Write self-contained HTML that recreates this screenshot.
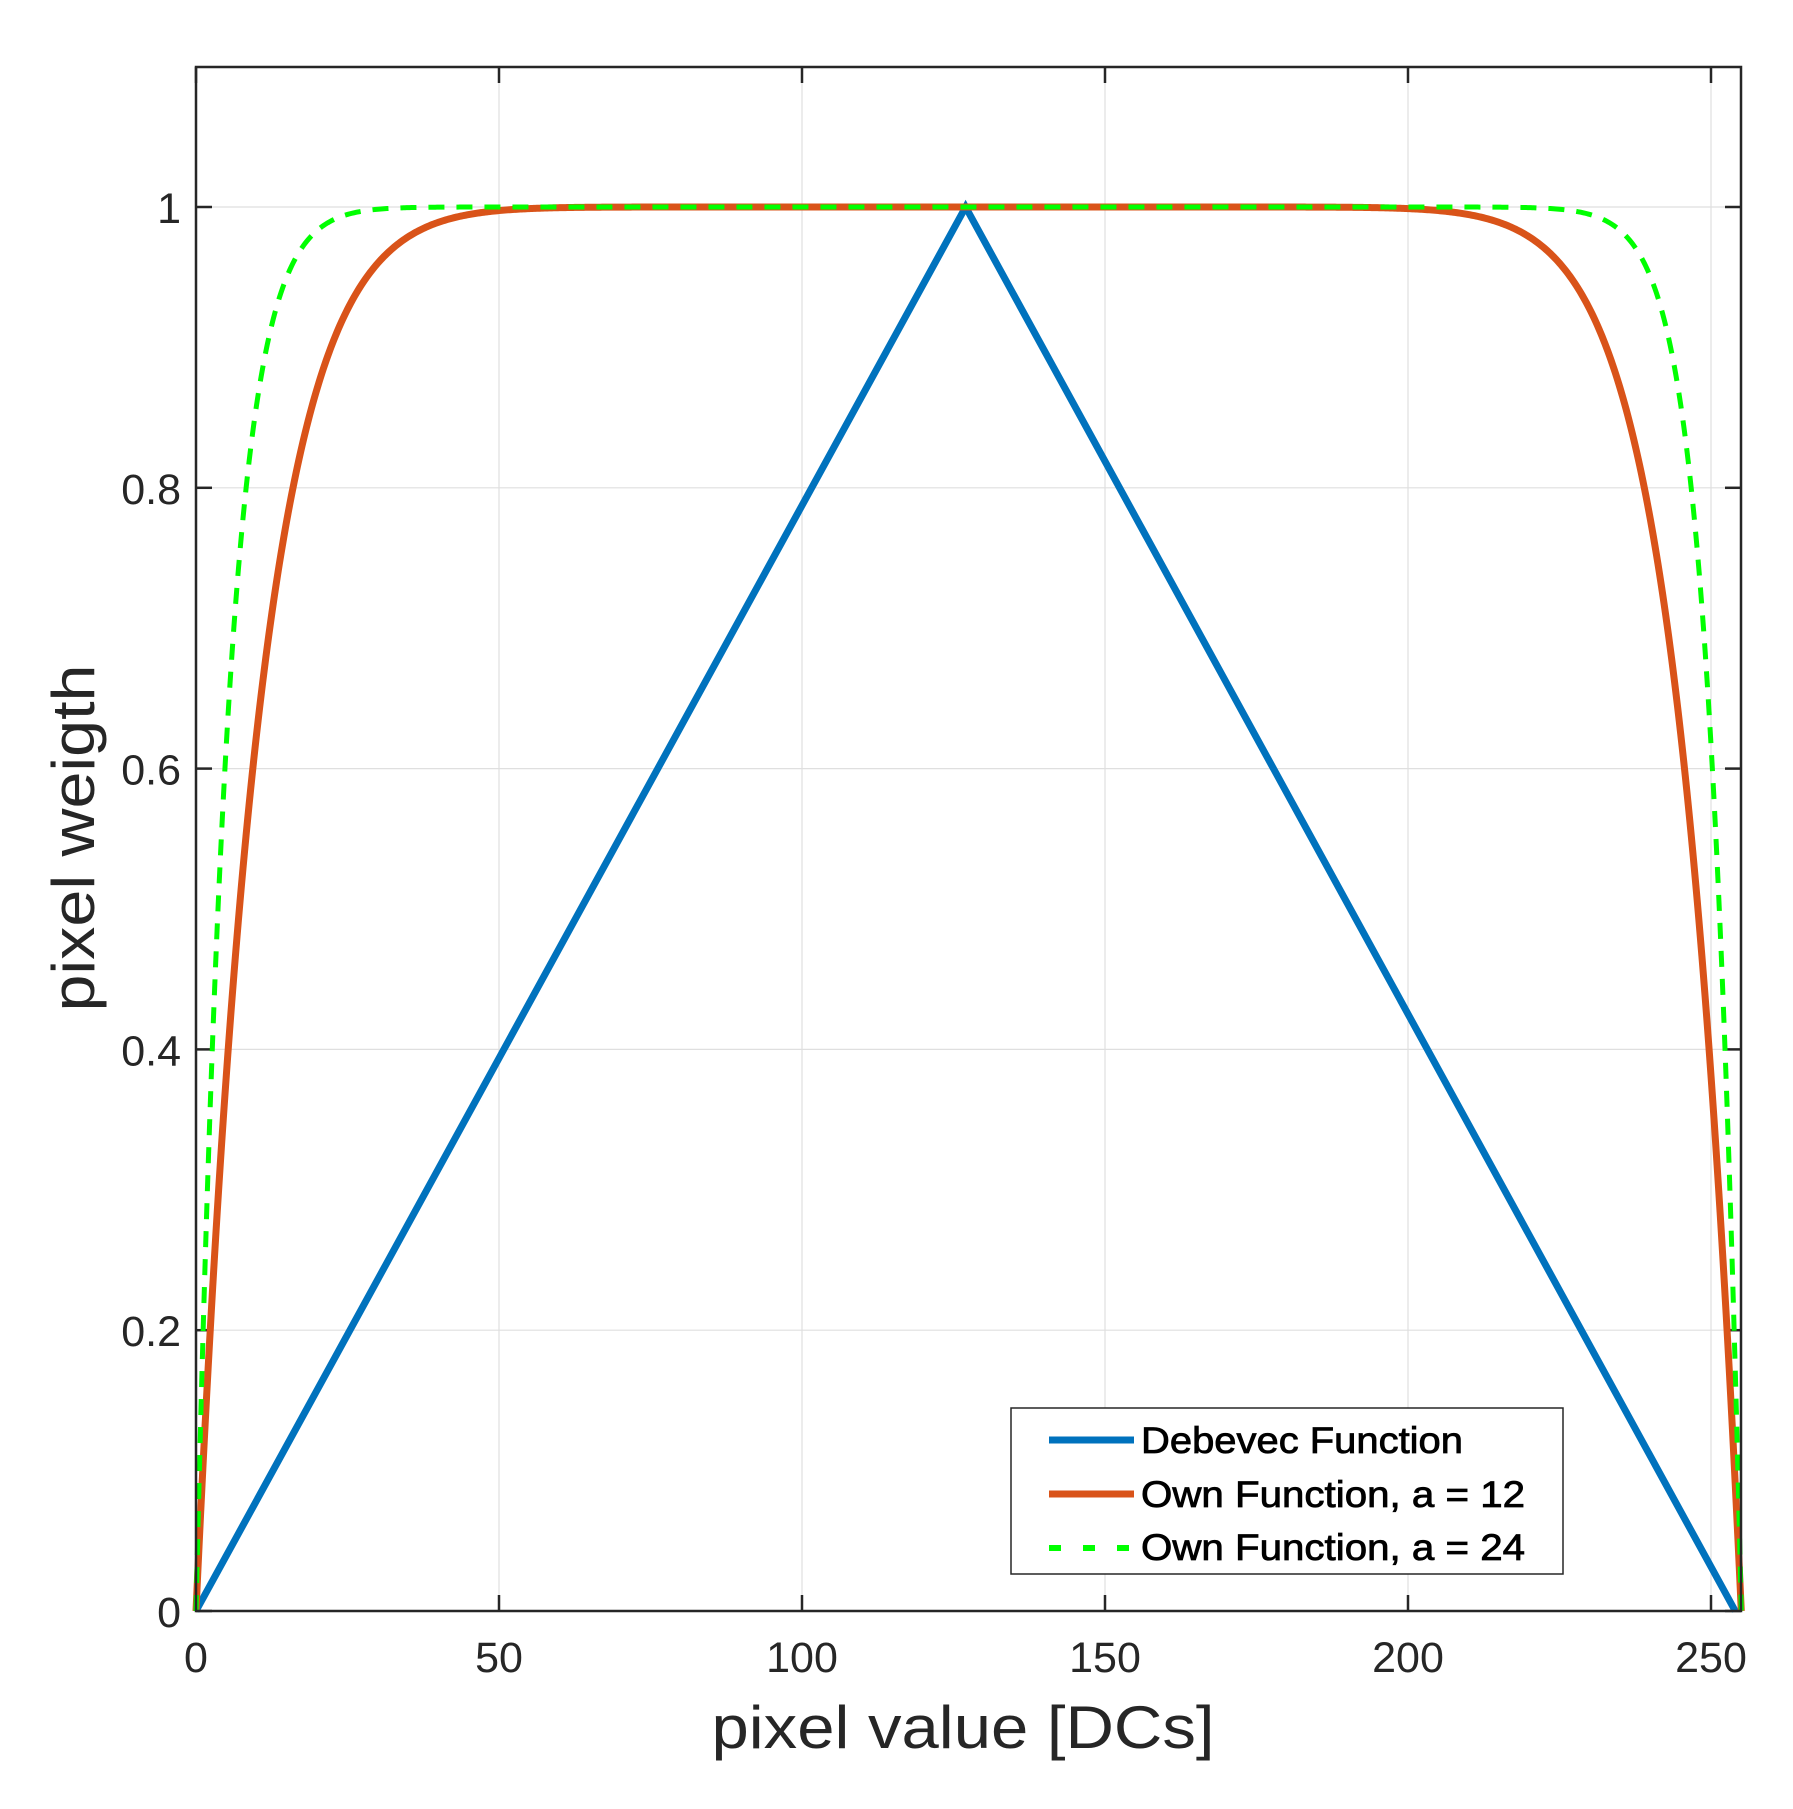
<!DOCTYPE html>
<html><head><style>body{margin:0;background:#fff}svg{display:block}text{font-family:"Liberation Sans",Arial,sans-serif;fill:#262626}</style></head>
<body>
<svg id="s" width="1793" height="1809" viewBox="0 0 1793 1809" xmlns="http://www.w3.org/2000/svg">
<g id="grid" stroke="#dfdfdf" stroke-width="1.2"></g>
<g id="ticks" stroke="#262626" stroke-width="2.5"></g>
<g id="lbl" font-size="43"></g>
<path id="deb" fill="none" stroke="#0072bd" stroke-width="7"/>
<path id="o12" fill="none" stroke="#d95319" stroke-width="7"/>
<path id="o24" fill="none" stroke="#00ff00" stroke-width="5" stroke-dasharray="16,12"/>
<rect x="196" y="67" width="1545" height="1544" fill="none" stroke="#262626" stroke-width="2.5"/>
<rect x="1011" y="1408" width="552" height="166" fill="#fff" stroke="#262626" stroke-width="1.5"/>
<line x1="1049" y1="1440" x2="1134" y2="1440" stroke="#0072bd" stroke-width="7"/>
<line x1="1049" y1="1494" x2="1134" y2="1494" stroke="#d95319" stroke-width="7"/>
<line x1="1049" y1="1548" x2="1134" y2="1548" stroke="#00ff00" stroke-width="6" stroke-dasharray="12,22"/>
<g font-size="37" style="fill:#000;stroke:#000;stroke-width:0.8">
<text x="1141" y="1453" textLength="322" lengthAdjust="spacingAndGlyphs" style="fill:#000">Debevec Function</text>
<text x="1141" y="1507" textLength="384" lengthAdjust="spacingAndGlyphs" style="fill:#000">Own Function, a = 12</text>
<text x="1141" y="1560" textLength="384" lengthAdjust="spacingAndGlyphs" style="fill:#000">Own Function, a = 24</text>
</g>
<text x="963" y="1748" font-size="60" text-anchor="middle" textLength="503" lengthAdjust="spacingAndGlyphs">pixel value [DCs]</text>
<text transform="translate(94,838) rotate(-90)" font-size="60" text-anchor="middle" textLength="347" lengthAdjust="spacingAndGlyphs">pixel weigth</text>
</svg>
<script>
const X=v=>196+v*(1515/250),Y=v=>1611-v*1404;
const g=document.getElementById('grid'),t=document.getElementById('ticks'),l=document.getElementById('lbl');
let gs='',ts='',ls='';
for(const v of [0,50,100,150,200,250]){const x=X(v);
 if(v>0)gs+=`<line x1="${x}" y1="67" x2="${x}" y2="1611"/>`;
 ts+=`<line x1="${x}" y1="1611" x2="${x}" y2="1595"/><line x1="${x}" y1="67" x2="${x}" y2="83"/>`;
 ls+=`<text x="${x}" y="1672" text-anchor="middle">${v}</text>`;}
for(const v of [0,0.2,0.4,0.6,0.8,1]){const y=Y(v);
 if(v>0)gs+=`<line x1="196" y1="${y}" x2="1741" y2="${y}"/>`;
 ts+=`<line x1="196" y1="${y}" x2="212" y2="${y}"/><line x1="1741" y1="${y}" x2="1725" y2="${y}"/>`;
 ls+=`<text x="181" y="${y+16}" text-anchor="end">${v}</text>`;}
g.innerHTML=gs;t.innerHTML=ts;l.innerHTML=ls;
document.getElementById('deb').setAttribute('d',`M${X(0)},${Y(0)}L${X(127)},${Y(1)}L${X(254)},${Y(0)}`);
function own(a){let d='';for(let z=0;z<=255;z+=0.25){const w=1-Math.pow(Math.abs(z-127.5)/127.5,a);d+=(z?'L':'M')+X(z).toFixed(2)+','+Y(w).toFixed(2);}return d;}
document.getElementById('o12').setAttribute('d',own(12));
document.getElementById('o24').setAttribute('d',own(24));
</script>
</body></html>
